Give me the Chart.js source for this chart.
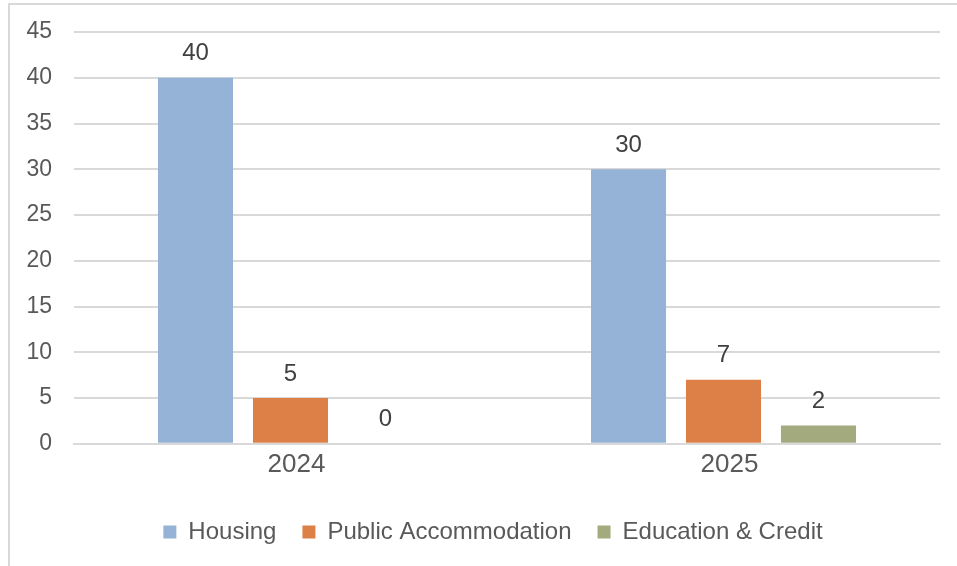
<!DOCTYPE html>
<html>
<head>
<meta charset="utf-8">
<script src="https://cdn.jsdelivr.net/npm/chart.js@4/dist/chart.umd.min.js"></script>
<style>
    html, body { margin: 0; padding: 0; background: #ffffff; }
    #wrap { position: relative; width: 957px; height: 566px; }
    #frame {
        position: absolute; left: 8px; top: 3px; right: 0; bottom: 0;
        border-top: 2px solid #d9d9d9; border-left: 2px solid #d9d9d9;
    }
    #chart-ctx { position: absolute; left: 0; top: 0; }
</style>
</head>
<body>
<div id="wrap">
    <div id="frame"></div>
    <canvas id="chart-ctx" width="957" height="566"></canvas>
</div>
<script>
const years = ["2024", "2025"];
const housing = [40, 30];
const publicAccommodation = [5, 7];
const educationCredit = [0, 2];

const fontFamily = "'Liberation Sans', Arial, sans-serif";

// value labels above each bar
const barValueLabels = {
    id: "barValueLabels",
    afterDatasetsDraw(chart) {
        const ctx = chart.ctx;
        ctx.save();
        ctx.font = "24px " + fontFamily;
        ctx.fillStyle = "#404040";
        ctx.textAlign = "center";
        ctx.textBaseline = "middle";
        chart.data.datasets.forEach((dataset, i) => {
            chart.getDatasetMeta(i).data.forEach((bar, j) => {
                ctx.fillText(String(dataset.data[j]), bar.x, bar.y - 24);
            });
        });
        ctx.restore();
    }
};

// legend sits a bit right of the canvas centre in the original
const nudgeLegend = {
    id: "nudgeLegend",
    afterLayout(chart) {
        chart.legend.left += 23;
        chart.legend.right += 23;
    }
};

const ctx = document.getElementById("chart-ctx");

new Chart(ctx, {
    type: "bar",
    data: {
        labels: years,
        datasets: [
            { label: "Housing", data: housing, backgroundColor: "#95b3d7" },
            { label: "Public Accommodation", data: publicAccommodation, backgroundColor: "#dd8047" },
            { label: "Education & Credit", data: educationCredit, backgroundColor: "#a3aa7e" },
        ]
    },
    options: {
        responsive: false,
        animation: false,
        devicePixelRatio: 1,
        categoryPercentage: 0.658,
        barPercentage: 0.79,
        layout: {
            padding: { top: 32, right: 17, bottom: 12, left: 0 }
        },
        plugins: {
            legend: {
                display: true,
                position: "bottom",
                labels: {
                    boxWidth: 13,
                    boxHeight: 13,
                    padding: 26,
                    color: "#595959",
                    font: { family: fontFamily, size: 24 },
                },
            },
            title: { display: false },
            tooltip: { enabled: false },
        },
        scales: {
            x: {
                afterFit(scale) {
                    scale.height += 9;
                    scale.paddingLeft = 0;
                    scale.paddingRight = 0;
                },
                grid: { display: false, drawTicks: false },
                border: { display: true, color: "#d9d9d9", width: 2 },
                ticks: {
                    color: "#595959",
                    padding: 5,
                    labelOffset: 6,
                    font: { family: fontFamily, size: 26 },
                },
            },
            y: {
                min: 0,
                max: 45,
                afterFit(scale) {
                    scale.width = 74;
                    scale.paddingTop = 0;
                    scale.paddingBottom = 0;
                },
                grid: { color: "#d9d9d9", lineWidth: 2, drawTicks: false },
                border: { display: false },
                ticks: {
                    stepSize: 5,
                    color: "#595959",
                    padding: 22,
                    font: { family: fontFamily, size: 23 },
                },
            }
        }
    },
    plugins: [barValueLabels, nudgeLegend]
});
</script>
</body>
</html>
